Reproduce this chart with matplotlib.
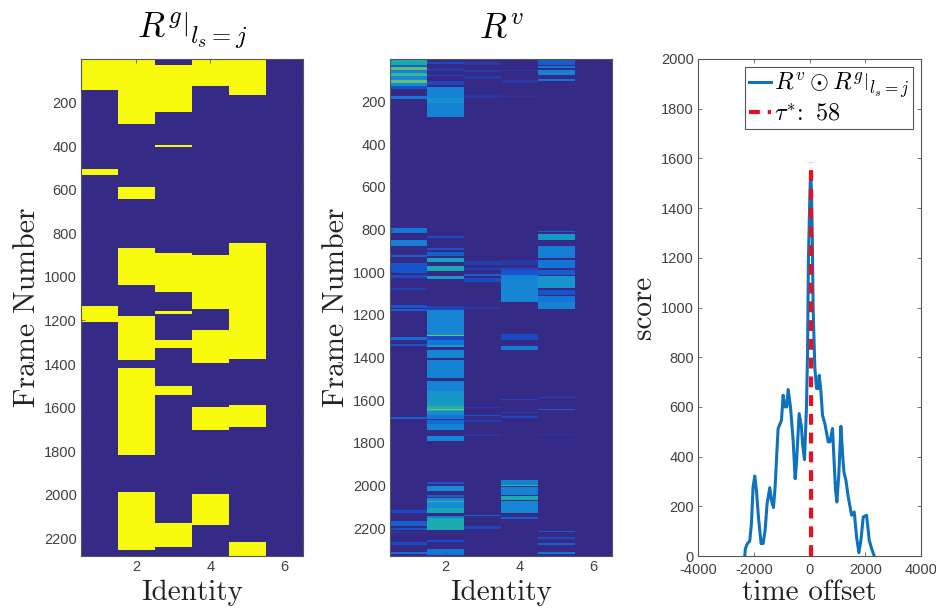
#!/usr/bin/env python3
import numpy as np
import matplotlib
matplotlib.use('Agg')
import matplotlib.pyplot as plt
from matplotlib.colors import LinearSegmentedColormap

plt.rcParams['font.family'] = ['Liberation Sans', 'DejaVu Sans']
plt.rcParams['mathtext.fontset'] = 'cm'
plt.rcParams['axes.unicode_minus'] = False

identities = [1, 2, 3, 4, 5, 6]

# binary ground truth: (first frame, last frame) per identity
gt_id1 = [(0, 143), (503, 532), (1132, 1206)]
gt_id2 = [(0, 300), (585, 640), (865, 1036), (1180, 1382), (1419, 1818), (1988, 2251)]
gt_id3 = [(28, 243), (393, 404), (892, 1070), (1155, 1171), (1287, 1328), (1498, 1543), (2129, 2239)]
gt_id4 = [(0, 122), (898, 1148), (1241, 1393), (1596, 1703), (1994, 2136)]
gt_id5 = [(0, 167), (845, 1374), (1588, 1688), (2214, 2280)]
gt_id6 = []

# visual scores: (first frame, last frame, value)
vis_id1 = [(6, 27, .42), (27, 37, .15), (37, 53, .58), (53, 66, .25), (66, 81, .5), (81, 97, .28),
           (97, 112, .58), (112, 128, .3), (128, 140, .12), (175, 186, .2), (792, 816, .22),
           (847, 875, .25), (919, 928, .15), (956, 1003, .12), (1011, 1027, .1), (1074, 1082, .07),
           (1152, 1168, .12), (1172, 1180, .15), (1305, 1316, .18), (1336, 1344, .12),
           (1679, 1688, .15), (2116, 2129, .1), (2168, 2191, .15), (2199, 2207, .12),
           (2219, 2222, .06), (2266, 2277, .1), (2309, 2320, .18)]
vis_id2 = [(16, 22, .1), (42, 58, .06), (73, 81, .08), (105, 120, .08), (131, 183, .26), (183, 206, .32),
           (206, 272, .26), (831, 839, .1), (888, 897, .12), (906, 922, .15), (931, 953, .38),
           (969, 996, .42), (1016, 1032, .35), (1160, 1175, .08), (1179, 1293, .27), (1293, 1297, .6),
           (1297, 1316, .1), (1319, 1340, .2), (1341, 1352, .35), (1366, 1404, .27), (1413, 1497, .26),
           (1508, 1558, .26), (1558, 1594, .33), (1594, 1629, .35), (1629, 1643, .45), (1643, 1647, .6),
           (1647, 1652, .45), (1652, 1668, .3), (1668, 1688, .2), (1694, 1710, .18), (1710, 1741, .26),
           (1766, 1791, .27), (1985, 1991, .12), (2001, 2027, .3), (2043, 2054, .15), (2058, 2072, .3),
           (2072, 2078, .5), (2078, 2105, .3), (2105, 2129, .4), (2141, 2152, .25), (2152, 2210, .42),
           (2257, 2265, .1), (2296, 2324, .2)]
vis_id3 = [(16, 27, .05), (50, 62, .06), (81, 94, .06), (169, 183, .04), (949, 964, .06), (980, 991, .07),
           (1007, 1016, .15), (1027, 1046, .1), (1163, 1172, .05), (1632, 1638, .05), (1668, 1674, .12),
           (1694, 1702, .07), (1760, 1766, .04), (2137, 2144, .15), (2188, 2204, .08)]
vis_id4 = [(50, 58, .05), (97, 112, .05), (172, 178, .03), (941, 964, .05), (980, 991, .09), (991, 1011, .12),
           (1011, 1042, .25), (1042, 1141, .27), (1290, 1297, .1), (1300, 1319, .1), (1347, 1366, .22),
           (1594, 1600, .08), (1655, 1660, .06), (1675, 1682, .08), (1973, 1995, .25), (1995, 2004, .5),
           (2007, 2043, .25), (2051, 2066, .42), (2074, 2129, .28), (2148, 2155, .15)]
vis_id5 = [(6, 27, .15), (34, 44, .2), (53, 75, .26), (94, 102, .2), (808, 813, .15), (819, 847, .35),
           (875, 933, .24), (944, 980, .2), (991, 1011, .14), (1019, 1074, .33), (1082, 1105, .12),
           (1113, 1140, .2), (1140, 1172, .26), (1585, 1591, .08), (1640, 1646, .14), (1759, 1764, .04),
           (2212, 2218, .14), (2241, 2251, .1), (2270, 2277, .15), (2309, 2320, .2)]
vis_id6 = []

# correlation curve
offset = [-2323, -2300, -2228, -2144, -2084, -2024, -1964, -1904, -1832, -1737, -1665, -1593, -1521,
          -1425, -1365, -1293, -1234, -1186, -1126, -1006, -946, -874, -814, -766, -683, -587, -515,
          -467, -371, -287, -251, -180, -108, -70, -40, -10, 20, 40, 70, 100, 130, 190, 250, 310, 347,
          407, 467, 551, 671, 731, 826, 874, 934, 982, 1054, 1126, 1186, 1234, 1306, 1390, 1509, 1605,
          1689, 1772, 1844, 1928, 2048, 2144, 2228, 2323]
score = [0, 30, 50, 60, 130, 278, 322, 264, 157, 50, 50, 103, 211, 275, 224, 195, 278, 385, 513, 546,
         647, 600, 600, 670, 600, 466, 311, 372, 573, 519, 452, 388, 600, 820, 1180, 1340, 1480, 1546,
         1470, 1290, 1000, 760, 674, 674, 727, 667, 566, 533, 459, 459, 513, 399, 264, 217, 332, 522,
         412, 338, 305, 238, 164, 177, 76, 13, 63, 157, 164, 63, 30, 0]
best_offset = 58
best_score_top = 1585

parula = LinearSegmentedColormap.from_list('parula', [
    (0.2081, 0.1663, 0.5292), (0.1000, 0.3000, 0.7800), (0.0779, 0.4600, 0.8384),
    (0.0900, 0.5500, 0.8300), (0.0800, 0.6600, 0.7200), (0.2000, 0.7200, 0.6000),
    (0.4500, 0.7500, 0.4000), (0.7000, 0.7500, 0.2000), (0.9000, 0.7300, 0.2000),
    (0.9900, 0.8400, 0.2000), (0.9763, 0.9831, 0.0538)])

W, H = 936.0, 612.0
GRAY = '#555555'


def axes_px(fig, left, top, right, bottom):
    return fig.add_axes([left / W, 1 - bottom / H, (right - left) / W, (bottom - top) / H])


def build_matrix(columns, n_frames):
    mat = np.zeros((n_frames, len(columns)))
    for j, col in enumerate(columns):
        for seg in col:
            val = seg[2] if len(seg) > 2 else 1.0
            mat[seg[0]:seg[1], j] = val
    return mat


def style(ax):
    for s in ax.spines.values():
        s.set_color(GRAY)
        s.set_linewidth(0.8)
    ax.tick_params(direction='in', length=3, width=0.5, colors='#404040', labelsize=10.5,
                   top=True, right=True, pad=3)


def draw_matrix(ax, mat, title):
    ax.imshow(mat, cmap=parula, vmin=0, vmax=1, aspect='auto', interpolation='nearest',
              extent=(0.5, 6.5, mat.shape[0] + 0.5, 0.5))
    ax.set_xticks([2, 4, 6])
    ax.set_yticks(np.arange(200, 2201, 200))
    style(ax)
    ax.set_xlabel('Identity', family='cmr10', fontsize=21, color='#222222', labelpad=4)
    ax.set_ylabel('Frame Number', family='cmr10', fontsize=21.5, color='#222222', labelpad=2)
    ax.set_title(title, fontsize=25.5, pad=15)


fig = plt.figure(figsize=(W / 100, H / 100), dpi=100)

ax = axes_px(fig, 81, 59, 303, 556)
draw_matrix(ax, build_matrix([gt_id1, gt_id2, gt_id3, gt_id4, gt_id5, gt_id6], 2280),
            r'$\left.R^g\right|_{l_s=j}$')

ax = axes_px(fig, 390, 59, 612, 556)
draw_matrix(ax, build_matrix([vis_id1, vis_id2, vis_id3, vis_id4, vis_id5, vis_id6], 2330), r'$R^v$')

ax = axes_px(fig, 698, 59, 921, 556)
ax.plot(offset, score, color='#0f72bd', lw=2.2, label=r'$R^v\odot\left.R^g\right|_{l_s=j}$')
ax.plot([best_offset, best_offset], [0, best_score_top], color='#e8101c', lw=3, ls=(0, (2.6, 1.9)),
        label=r'$\tau^{*}\!:\ 58$')
ax.set_xlim(-4000, 4000)
ax.set_ylim(0, 2000)
ax.set_xticks(np.arange(-4000, 4001, 2000))
ax.set_yticks(np.arange(0, 2001, 200))
style(ax)
ax.tick_params(axis='x', pad=5)
ax.set_xlabel('time offset', family='cmr10', fontsize=21, color='#222222', labelpad=2)
ax.set_ylabel('score', family='cmr10', fontsize=21, color='#222222', labelpad=3)
leg = ax.legend(loc='upper right', bbox_to_anchor=(0.964, 0.984), borderaxespad=0, fontsize=17.5,
                frameon=True, fancybox=False, framealpha=1, edgecolor=GRAY, handlelength=0.92,
                handletextpad=0.12, labelspacing=0.1, borderpad=0.15)
leg.get_frame().set_linewidth(0.8)

fig.savefig('out.png', dpi=100)
